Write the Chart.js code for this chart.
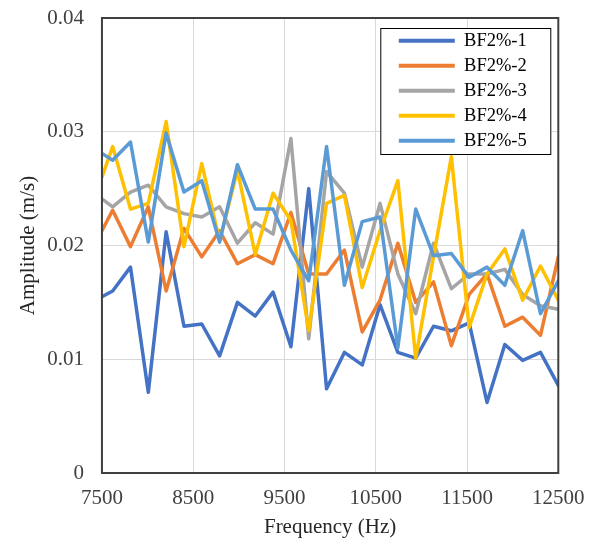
<!DOCTYPE html>
<html>
<head>
<meta charset="utf-8">
<script src="https://cdn.jsdelivr.net/npm/chart.js@4.4.1/dist/chart.umd.min.js"></script>
<style>
  html, body { margin: 0; padding: 0; background: #fff; }
  #wrap { width: 595px; height: 540px; position: relative; }
</style>
</head>
<body>
<div id="wrap"><canvas id="chart"></canvas></div>
<script>
// frequency of each sample (Hz)
const freq = [7500, 7617.2, 7812.5, 8007.8, 8203.1, 8398.4, 8593.8, 8789.1, 8984.4, 9179.7,
  9375, 9570.3, 9765.6, 9960.9, 10156.3, 10351.6, 10546.9, 10742.2, 10937.5, 11132.8,
  11328.1, 11523.4, 11718.8, 11914.1, 12109.4, 12304.7, 12500];

// amplitude (m/s) per specimen
const bf1 = [0.0155, 0.0160, 0.0181, 0.0071, 0.0212, 0.0129, 0.0131, 0.0103, 0.0150, 0.0138,
  0.0159, 0.0111, 0.0250, 0.0074, 0.0106, 0.0095, 0.0148, 0.0106, 0.0101, 0.0129,
  0.0125, 0.0132, 0.0062, 0.0113, 0.0099, 0.0106, 0.0077];
const bf2 = [0.0213, 0.0231, 0.0199, 0.0234, 0.0160, 0.0215, 0.0190, 0.0213, 0.0184, 0.0192,
  0.0184, 0.0229, 0.0175, 0.0175, 0.0196, 0.0124, 0.0152, 0.0202, 0.0150, 0.0168,
  0.0112, 0.0157, 0.0175, 0.0129, 0.0137, 0.0121, 0.0190];
const bf3 = [0.0241, 0.0234, 0.0247, 0.0253, 0.0234, 0.0228, 0.0225, 0.0234, 0.0202, 0.0220,
  0.0210, 0.0294, 0.0118, 0.0265, 0.0246, 0.0181, 0.0237, 0.0175, 0.0140, 0.0202,
  0.0162, 0.0175, 0.0175, 0.0179, 0.0157, 0.0147, 0.0144];
const bf4 = [0.0260, 0.0287, 0.0232, 0.0237, 0.0309, 0.0199, 0.0272, 0.0204, 0.0266, 0.0192,
  0.0246, 0.0222, 0.0125, 0.0237, 0.0244, 0.0163, 0.0213, 0.0257, 0.0101, 0.0190,
  0.0278, 0.0128, 0.0175, 0.0197, 0.0152, 0.0182, 0.0152];
const bf5 = [0.0281, 0.0275, 0.0291, 0.0203, 0.0299, 0.0247, 0.0257, 0.0203, 0.0271, 0.0232,
  0.0232, 0.0196, 0.0169, 0.0287, 0.0165, 0.0221, 0.0225, 0.0110, 0.0232, 0.0191,
  0.0193, 0.0172, 0.0181, 0.0165, 0.0213, 0.0140, 0.0169];

const seriesNames = ['BF2%-1', 'BF2%-2', 'BF2%-3', 'BF2%-4', 'BF2%-5'];
const seriesValues = [bf1, bf2, bf3, bf4, bf5];
const seriesColors = ['#4472C4', '#ED7D31', '#A5A5A5', '#FFC000', '#5B9BD5'];

const xTicks = [7500, 8500, 9500, 10500, 11500, 12500];

Chart.defaults.font.family = "'Liberation Serif', 'Times New Roman', serif";
Chart.defaults.color = '#333';

// legend frame inside the plot + plot border
const framePlugin = {
  id: 'frame',
  beforeDraw(chart) {
    const a = chart.chartArea;
    const lg = chart.legend;
    lg.left = a.right - 166;
    lg.top = a.top + 7;
    lg.right = chart.width;
    lg.bottom = chart.height;
  },
  beforeDatasetsDraw(chart) {
    const a = chart.chartArea;
    const ctx = chart.ctx;
    ctx.save();
    ctx.fillStyle = '#fff';
    ctx.fillRect(a.right - 178, a.top + 10, 171, 127);
    ctx.strokeStyle = '#000';
    ctx.lineWidth = 1;
    ctx.strokeRect(a.right - 177.5, a.top + 10.5, 170, 126);
    ctx.restore();
    chart.legend.draw();
  },
  afterDatasetsDraw(chart) {
    const a = chart.chartArea;
    const ctx = chart.ctx;
    ctx.save();
    ctx.strokeStyle = '#404040';
    ctx.lineWidth = 2;
    ctx.strokeRect(a.left, a.top, a.width, a.height);
    ctx.restore();
  }
};

new Chart(document.getElementById('chart'), {
  type: 'line',
  data: {
    datasets: seriesNames.map((name, i) => ({
      label: name,
      data: freq.map((f, j) => ({ x: f, y: seriesValues[i][j] })),
      borderColor: seriesColors[i],
      backgroundColor: seriesColors[i],
      borderWidth: 3.5,
      borderJoinStyle: 'round',
      borderCapStyle: 'round',
      pointRadius: 0,
      tension: 0,
      order: seriesNames.length - i
    }))
  },
  options: {
    responsive: true,
    maintainAspectRatio: false,
    animation: false,
    layout: { padding: { left: 16, right: 36.7, top: 6, bottom: 0 } },
    plugins: {
      tooltip: { enabled: false },
      legend: {
        position: 'chartArea',
        align: 'start',
        labels: {
          color: '#000',
          font: { size: 18.5 },
          boxWidth: 56,
          boxHeight: 4,
          padding: 6.5,
          sort: (a, b) => a.datasetIndex - b.datasetIndex,
          generateLabels(chart) {
            const items = Chart.defaults.plugins.legend.labels.generateLabels(chart);
            items.forEach(it => { it.lineWidth = 0; });
            return items;
          }
        }
      }
    },
    scales: {
      x: {
        type: 'linear',
        min: 7500,
        max: 12500,
        afterBuildTicks: (axis) => { axis.ticks = xTicks.map(v => ({ value: v })); },
        afterFit: (scale) => { scale.paddingRight = 0; },
        grid: { color: '#d9d9d9', lineWidth: 1, drawTicks: false },
        border: { display: false },
        ticks: { padding: 13, font: { size: 21 }, color: '#404040', maxRotation: 0,
          callback: (v) => String(v) },
        title: { display: true, text: 'Frequency (Hz)', font: { size: 21 }, color: '#262626',
          padding: { top: -9.4, bottom: 0 } }
      },
      y: {
        min: 0,
        max: 0.04,
        afterFit: (scale) => { scale.paddingTop = 18; },
        grid: { color: '#d9d9d9', lineWidth: 1, drawTicks: false },
        border: { display: false },
        ticks: { stepSize: 0.01, padding: 18, font: { size: 21 }, color: '#404040',
          callback: (v) => v === 0 ? '0' : v.toFixed(2) },
        title: { display: true, text: 'Amplitude (m/s)', font: { size: 21 }, color: '#262626',
          padding: { top: 0, bottom: -12 } }
      }
    }
  },
  plugins: [framePlugin]
});
</script>
</body>
</html>
